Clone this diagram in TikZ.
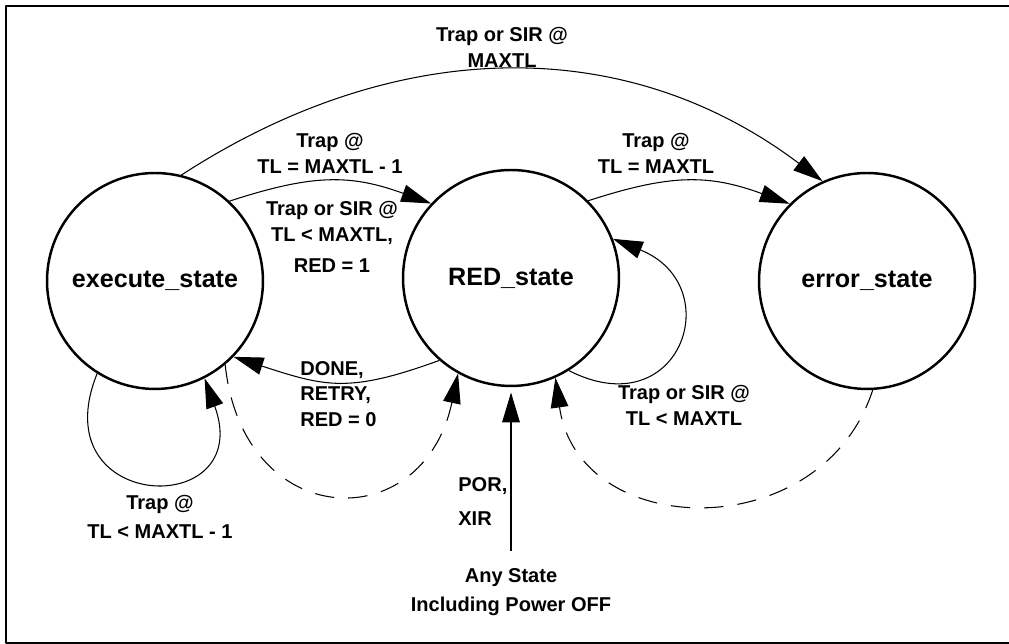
\documentclass[tikz,border=0pt]{standalone}
\usepackage{fontspec}
\setmainfont{Liberation Sans}
\usetikzlibrary{arrows.meta}

\begin{document}
\begin{tikzpicture}[x=0.02cm, y=0.02cm, line join=round,
    state/.style={circle, draw, line width=1.4pt, minimum size=4.32cm, inner sep=0pt,
      font=\fontsize{14.3}{17}\selectfont\bfseries},
    lbl/.style={inner sep=0pt, align=center, font=\fontsize{11.4}{14.7}\selectfont\bfseries},
    trans/.style={line width=0.6pt, -{Triangle[length=17pt,width=10pt]}},
    reset/.style={trans, dash pattern=on 11pt off 8pt}]
  \useasboundingbox (0,0) rectangle (1009,644);
  \fill[white] (0,0) rectangle (1009,644);
  \draw[line width=1.3pt] (6,1) rectangle (1030,638); % frame runs off the right edge

  % --- states ---
  \node[state] (exec) at (155,363) {execute\_state};
  \node[state] (red)  at (511,366) {RED\_state};
  \node[state] (err)  at (867,363) {error\_state};

  % --- labels ---
  \node[lbl] (lmax)    at (502,597) {Trap or SIR @\\MAXTL};
  \node[lbl] (lredin)  at (330,490.5) {Trap @\\TL = MAXTL - 1};
  \node[lbl] (lsir)    at (332,407) {Trap or SIR @\\TL < MAXTL,\\[3pt]RED = 1};
  \node[lbl] (lerr)    at (656,491) {Trap @\\TL = MAXTL};
  \node[lbl, align=left, anchor=west] (ldone) at (300,250) {DONE,\\RETRY,\\RED = 0};
  \node[lbl] (lexloop) at (160,127) {Trap @\\[2pt]TL < MAXTL - 1};
  \node[lbl] (lredloop) at (684,239) {Trap or SIR @\\TL < MAXTL};
  \node[lbl, align=left, anchor=west] (lpor) at (458,142.5) {POR,\\[5pt]XIR};
  \node[lbl] (any)     at (511,52) {Any State\\[2pt]Including Power OFF};

  % --- transitions ---
  \draw[trans] (exec.76) to[out=33,in=143] (err.114);
  \draw[trans] (exec.47) to[out=18,in=160,looseness=1.1] (red.137);
  \draw[trans] (red.45) to[out=18,in=160,looseness=1.1] (err.135);
  \draw[trans] (red.-58) to[out=-27,in=-22,looseness=2.3] (red.21);
  \draw[trans] (red.-131) to[out=200,in=-18,looseness=1.2] (exec.-44);
  \draw[trans] (exec.-122) to[out=-112,in=-70,looseness=3.6] (exec.-63);

  % --- resets ---
  \draw[reset] (exec.-50) to[out=-84,in=-102,looseness=1.85] (red.-119);
  \draw[reset] (err.-87) to[out=-108,in=-82,looseness=1.33] (red.-66);
  \draw[trans, shorten >=3pt] (any.north) ++(0,17) -- (red.south);
\end{tikzpicture}
\end{document}
